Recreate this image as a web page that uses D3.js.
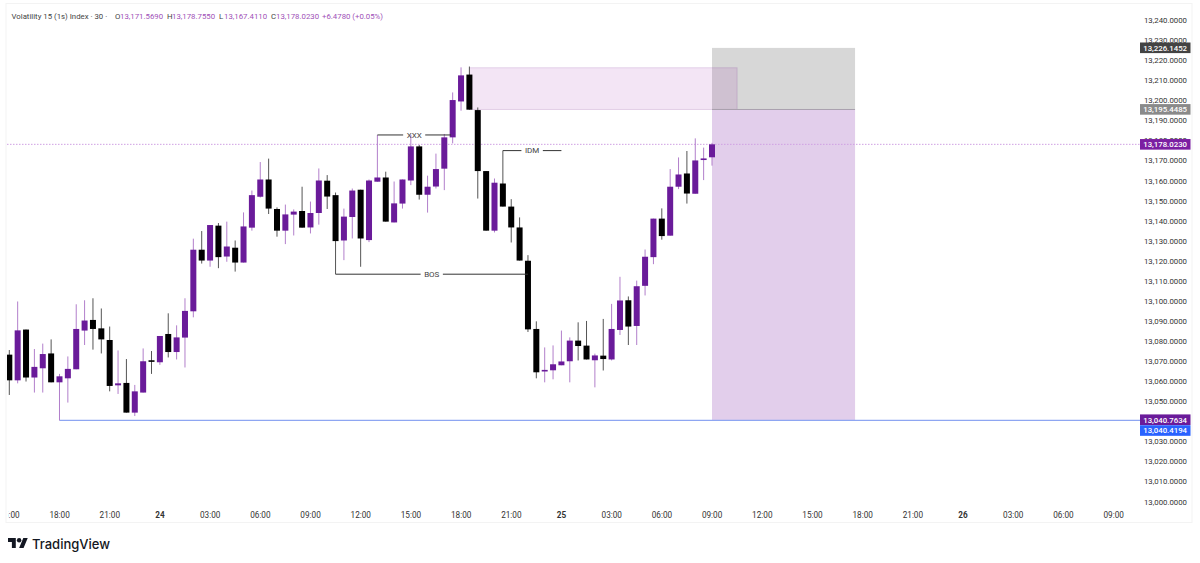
<!DOCTYPE html>
<html lang="en">
<head>
  <meta charset="UTF-8">
  <title>Volatility 15 (1s) Index</title>
  <script src="https://d3js.org/d3.v7.min.js"></script>
  <style>
    html, body { margin: 0; padding: 0; background: #fff; overflow: hidden; }
    svg { display: block; font-family: Roboto, sans-serif; }
  </style>
</head>
<body>
  <div class="chart"></div>
  <script>
    // 30 minute candles, first one is 15:00 on the 23rd
    const opens = [13073.2,13060.4,13085.7,13061.8,13066.4,13073.8,13059.4,13061.4,13065.9,13085.2,13090.5,13086.3,13080.5,13057.9,13059.1,13044.3,13054.3,13070.4,13069.4,13083.5,13074.5,13081.7,13094.8,13125.5,13120.1,13137.5,13122.1,13126.5,13119.1,13136.5,13151.9,13160.5,13145.8,13135,13143,13144.8,13136.6,13143.8,13159.9,13152.7,13130.1,13141.8,13155.4,13130.3,13159.4,13161.5,13139.1,13148.5,13160,13177,13152.9,13157,13165.9,13181.5,13199.4,13212.8,13195.1,13164.7,13135,13158.5,13147,13136.6,13120,13086,13064.8,13065.4,13067.9,13069.9,13080.2,13077.7,13070.4,13072.7,13070.8,13085.5,13100.3,13087.5,13107.5,13121.8,13141,13132.5,13156.9,13163.5,13153.4,13170.2,13171.569];
    const highs = [13075.5,13099.7,13085.7,13076,13078.7,13080.8,13063.6,13072.3,13098.3,13100.3,13101.3,13096.2,13087.2,13075.3,13071,13058.1,13076.3,13075,13082.5,13093.8,13087.8,13101.3,13131,13134.8,13137.8,13138.8,13139.5,13130.1,13144.1,13155,13169.2,13170.9,13146.6,13148,13145.6,13156.9,13149.5,13166,13162.7,13154,13146,13156,13155.4,13160.5,13182.7,13164.4,13159.5,13160.5,13182.7,13177.7,13162.4,13173.4,13183.2,13203.9,13216.4,13216.8,13196.4,13164.7,13161,13174.9,13150.7,13141.6,13122.8,13089.8,13076.8,13077.8,13085.2,13081.8,13089.3,13090,13073.7,13091,13098.5,13112,13102.2,13110.1,13125.6,13141,13146.1,13165.7,13171.5,13174.7,13181,13176.4,13178.755];
    const lows = [13053.1,13058.9,13059.8,13054.3,13054.3,13059.4,13040.4,13049.3,13065.9,13078,13075.7,13073.8,13054.9,13053.6,13044.3,13042.6,13054.3,13063.6,13068.1,13071.8,13070.8,13066.8,13091.8,13118.6,13117,13116.3,13119.5,13114.6,13119.1,13135,13151.5,13143.3,13132,13128.3,13132.6,13136.5,13133.6,13138,13145.8,13113.3,13120.3,13131.1,13117,13129.3,13159.4,13139.5,13139.1,13146,13157.7,13150.5,13144,13156,13155.2,13178.5,13194.8,13195.3,13151,13135,13134.1,13147,13129.1,13120.1,13084.5,13061.4,13059.4,13060.9,13067.9,13059.4,13070.3,13070.8,13056.9,13065.3,13070.3,13083,13078,13078,13102.7,13118.3,13130.5,13132.5,13155.7,13148.5,13153.4,13160.2,13167.411];
    const closes = [13060.4,13085.3,13061.8,13067.1,13073.5,13059.4,13062.4,13066.1,13086,13090.2,13086,13080.8,13057.6,13058.9,13044.3,13054.9,13069.9,13069.6,13082.5,13074.5,13081.8,13095,13125.5,13120.1,13137.8,13121.8,13127.1,13119.1,13137.1,13152.7,13160.5,13146,13135,13143.1,13144.5,13136.5,13143.8,13160,13152,13129.8,13142,13155,13131.1,13160,13161.5,13139.5,13148.6,13160.5,13177,13152.9,13156.9,13165.7,13181.5,13200.1,13212.4,13195.3,13164.7,13135,13158.9,13147,13136.6,13120.1,13085.8,13064.4,13065.6,13068.4,13069.8,13080.2,13077.5,13070.8,13072.8,13071,13086,13100.2,13087.2,13107.3,13122,13141,13132.3,13156.9,13163,13153.5,13170,13171,13178.023];

    const priceTicks = [13000,13010,13020,13030,13040,13050,13060,13070,13080,13090,13100,13110,13120,13130,13140,13150,13160,13170,13180,13190,13200,13210,13220,13230,13240];
    // hours counted from 00:00 on the 24th
    const timeTicks = [-9,-6,-3,0,3,6,9,12,15,18,21,24,27,30,33,36,39,42,45,48,51,54,57];
    const timeLabels = ['15:00','18:00','21:00','24','03:00','06:00','09:00','12:00','15:00','18:00','21:00','25','03:00','06:00','09:00','12:00','15:00','18:00','21:00','26','03:00','06:00','09:00'];

    // drawn levels, text lines: hour from, hour to, price
    const noteLabels = ['XXX','BOS','IDM'];
    const noteFrom = [13,10.5,20.5];
    const noteTo = [17.4,22,24];
    const notePrice = [13182.7,13113.3,13174.9];

    const tagPrices = [13226.1452,13195.4485,13178.023,13040.7634,13040.4194];
    const tagColors = ['#434343','#8a8a8a','#7b1fa2','#6a1b9a','#2962ff'];

    const UP = '#6a1b9a', DOWN = '#000000';
    const UP_WICK = '#b27fcb', DOWN_WICK = '#555555';

    const W = 1200, H = 563;
    const x = d3.scaleLinear().domain([-9, 33]).range([9.3, 712]);
    const y = d3.scaleLinear().domain([13000, 13240]).range([501.5, 20]);
    const money = d3.format(',.4f');
    const left = 7, right = 1140, bottom = 522;
    const bodyW = 6;

    const svg = d3.select('.chart').append('svg').attr('width', W).attr('height', H);

    svg.append('clipPath').attr('id', 'plot').append('rect')
      .attr('x', left).attr('y', 0).attr('width', W - left).attr('height', bottom);

    // frame
    svg.append('rect').attr('x', left - 1).attr('y', 3.5).attr('width', 1186).attr('height', bottom - 3)
      .attr('fill', 'none').attr('stroke', '#f3f3f3');

    // zones
    const rectBetween = (h0, h1, p0, p1) => ({ x: x(h0), y: y(p1), w: x(h1) - x(h0), h: y(p0) - y(p1) });
    const zones = [
      { r: rectBetween(33, 41.55, 13040.4, 13195.4), fill: 'rgba(123,31,162,0.22)', stroke: 'none' },
      { r: rectBetween(33, 41.55, 13195.4, 13226.1), fill: 'rgba(0,0,0,0.155)', stroke: 'none' },
      { r: rectBetween(18.5, 34.5, 13195.4, 13216.2), fill: 'rgba(156,39,176,0.12)', stroke: 'rgba(120,40,140,0.17)' }
    ];
    svg.append('g').selectAll('rect').data(zones).join('rect')
      .attr('x', d => d.r.x).attr('y', d => d.r.y).attr('width', d => d.r.w).attr('height', d => d.r.h)
      .attr('fill', d => d.fill).attr('stroke', d => d.stroke);
    svg.append('line').attr('x1', x(33)).attr('x2', x(41.55)).attr('y1', y(13195.4)).attr('y2', y(13195.4))
      .attr('stroke', '#a9a0ad').attr('stroke-width', 1);

    // last price and the low level
    svg.append('line').attr('x1', left).attr('x2', right).attr('y1', y(13178.023)).attr('y2', y(13178.023))
      .attr('stroke', '#cf9fe3').attr('stroke-dasharray', '1.5 1.5');
    svg.append('line').attr('x1', x(-6)).attr('x2', right).attr('y1', y(13040.4)).attr('y2', y(13040.4))
      .attr('stroke', '#8ea6f2').attr('stroke-width', 1.2);

    // candles
    const candles = svg.append('g').attr('clip-path', 'url(#plot)').selectAll('g').data(opens).join('g');
    const hourOf = i => -9 + i * 0.5;
    const isUp = i => closes[i] >= opens[i];
    candles.append('line')
      .attr('x1', (d, i) => x(hourOf(i))).attr('x2', (d, i) => x(hourOf(i)))
      .attr('y1', (d, i) => y(highs[i])).attr('y2', (d, i) => y(lows[i]))
      .attr('stroke', (d, i) => isUp(i) ? UP_WICK : DOWN_WICK).attr('stroke-width', 1);
    candles.append('rect')
      .attr('x', (d, i) => x(hourOf(i)) - bodyW / 2).attr('width', bodyW)
      .attr('y', (d, i) => y(Math.max(opens[i], closes[i])))
      .attr('height', (d, i) => Math.max(1.5, Math.abs(y(opens[i]) - y(closes[i]))))
      .attr('fill', (d, i) => isUp(i) ? UP : DOWN);

    // text lines with a gap for the label
    noteLabels.forEach((label, i) => {
      const x0 = x(noteFrom[i]), x1 = x(noteTo[i]), yy = y(notePrice[i]), mid = (x0 + x1) / 2;
      const t = svg.append('text').attr('x', mid).attr('y', yy + 2.8).attr('text-anchor', 'middle')
        .attr('font-size', 8).attr('fill', '#444').text(label);
      const gap = t.node().getComputedTextLength() / 2 + 3.5;
      [[x0, mid - gap], [mid + gap, x1]].forEach(s => {
        svg.append('line').attr('x1', s[0]).attr('x2', s[1]).attr('y1', yy).attr('y2', yy)
          .attr('stroke', '#333').attr('stroke-width', 1);
      });
    });

    // price axis
    const yAxis = svg.append('g').attr('transform', `translate(${right}, 0)`)
      .call(d3.axisRight(y).tickValues(priceTicks).tickSize(0).tickFormat(money));
    yAxis.select('.domain').remove();
    yAxis.selectAll('text').attr('x', 47).attr('text-anchor', 'end')
      .attr('font-family', 'Roboto, sans-serif').attr('font-size', 7.8).attr('fill', '#333');

    // time axis
    const xAxis = svg.append('g').attr('transform', `translate(-0.4, ${bottom - 7})`).attr('clip-path', 'url(#timeclip)')
      .call(d3.axisBottom(x).tickValues(timeTicks).tickSize(0).tickFormat((d, i) => timeLabels[i]));
    svg.append('clipPath').attr('id', 'timeclip').append('rect')
      .attr('x', 8.8).attr('y', -10).attr('width', W).attr('height', 40);
    xAxis.select('.domain').remove();
    xAxis.selectAll('text').attr('y', 0).attr('dy', '0.36em')
      .attr('font-family', 'Roboto, sans-serif').attr('font-size', 8.2).attr('fill', '#333')
      .attr('font-weight', (d, i) => /:/.test(timeLabels[i]) ? 400 : 700);

    // price tags
    const tagY = [y(tagPrices[0]), y(tagPrices[1]), y(tagPrices[2]), y(tagPrices[3]), y(tagPrices[3]) + 10.8];
    const tags = svg.append('g').selectAll('g').data(tagPrices).join('g')
      .attr('transform', (d, i) => `translate(${right}, ${tagY[i]})`);
    tags.append('rect').attr('x', 0).attr('y', -5.3).attr('width', 50.5).attr('height', 10.6)
      .attr('fill', (d, i) => tagColors[i]);
    tags.append('text').attr('x', 47).attr('y', 2.8).attr('text-anchor', 'end')
      .attr('font-size', 7.8).attr('font-weight', 500).attr('fill', '#fff').text(d => money(d));

    // legend
    const legendText = ['Volatility 15 (1s) Index · 30 ·','O','13,171.5690','H','13,178.7550','L','13,167.4110','C','13,178.0230','+6.4780 (+0.05%)'];
    const legendX = [11.5,115,120,167,172,219,224,271,276,322];
    svg.append('g').selectAll('text').data(legendText).join('text')
      .attr('x', (d, i) => legendX[i]).attr('y', 19)
      .attr('font-size', 7.8)
      .attr('fill', (d, i) => (i === 0 || (i % 2 === 1 && i < 9)) ? '#444' : '#a051b8')
      .text(d => d);

    // logo
    const logo = svg.append('g').attr('transform', 'translate(8, 535.8) scale(0.556)').attr('fill', '#131722');
    logo.append('path').attr('d', 'M14 22H7V11H0V4h14v18zM28 22h-8l7.5-18h8L28 22z');
    logo.append('circle').attr('cx', 20).attr('cy', 8).attr('r', 4);
    svg.append('text').attr('x', 32).attr('y', 549).attr('font-family', 'Inter, sans-serif')
      .attr('font-size', 13).attr('font-weight', 500).attr('fill', '#131722').text('TradingView');
  </script>
</body>
</html>
